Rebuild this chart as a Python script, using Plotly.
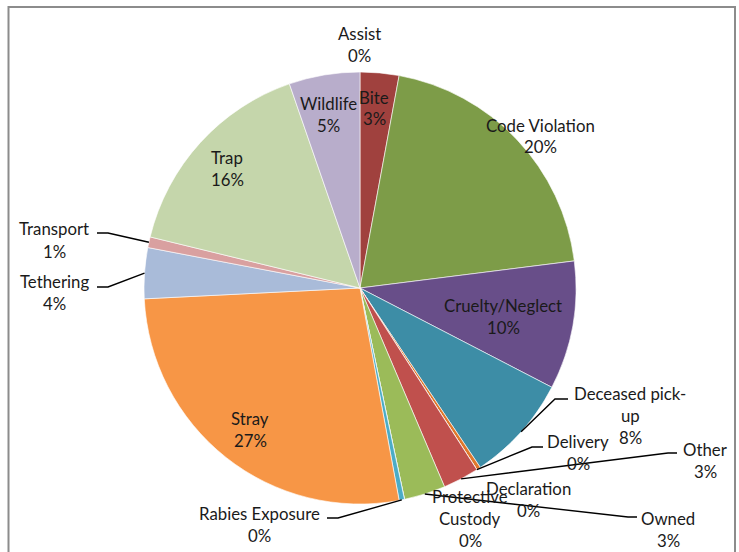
import math
import plotly.graph_objects as go

# ---- data ----
categories = ["Assist", "Bite", "Code Violation", "Cruelty/Neglect", "Deceased pick-up",
              "Declaration", "Delivery", "Other", "Owned", "Protective Custody",
              "Rabies Exposure", "Stray", "Tethering", "Transport", "Trap", "Wildlife"]
values = [0.0, 2.9, 20.1, 9.6, 8.0, 0.3, 0.0, 2.7, 3.1, 0.0, 0.4, 27.1, 3.8, 0.8, 15.9, 5.3]
colors = ["#31538A", "#A0413E", "#7D9C48", "#684E89", "#3D8DA6", "#E0782C", "#4F81BD",
          "#C0504D", "#9BBB59", "#8064A2", "#4BACC6", "#F79646", "#A9BBD9", "#D9A0A0",
          "#C5D6AB", "#B8ADCB"]
# label text lines (wrapped as in the original)
label_lines = {
    "Deceased pick-up": ["Deceased pick-", "up"],
    "Protective Custody": ["Protective", "Custody"],
}

# ---- layout constants (pixels) ----
W, H = 739, 552
CX, CY, R = 360, 288, 216
FONT = "Lato"
FS = 16.8
LINE = 22
# label position: (center x, y of first line); leader: (elbow, end) or None
label_pos = {
    "Assist": (359, 33, None),
    "Bite": (374, 97, None),
    "Code Violation": (540, 125, None),
    "Cruelty/Neglect": (503, 305, None),
    "Deceased pick-up": (630, 393, ((555, 399), (568, 399))),
    "Declaration": (528, 488, None),
    "Delivery": (578, 441, ((532, 447), (543, 447))),
    "Other": (705, 449, ((668, 453), (677, 453))),
    "Owned": (668, 518, ((628, 517), (637, 517))),
    "Protective Custody": (470, 496, None),
    "Rabies Exposure": (259, 513, ((338, 518), (327, 518))),
    "Stray": (250, 418, None),
    "Tethering": (55, 281, ((108, 287), (97, 287))),
    "Transport": (54, 229, ((108, 233), (97, 233))),
    "Trap": (227, 157, None),
    "Wildlife": (328, 103, None),
}

def px(x):
    return x / W

def py(y):
    return 1 - y / H

total = sum(values)
fig = go.Figure(go.Pie(
    labels=categories, values=values, sort=False, direction="clockwise", rotation=0,
    marker=dict(colors=colors, line=dict(color="white", width=0.6)),
    textinfo="none", hoverinfo="label+percent", showlegend=False,
    domain=dict(x=[px(CX - R), px(CX + R)], y=[py(CY + R), py(CY - R)]),
))

annotations = []
shapes = []
cum = 0.0
for cat, v in zip(categories, values):
    mid = (cum + v / 2) / total * 2 * math.pi
    cum += v
    x, y0, leader = label_pos[cat]
    pct = f"{round(v / total * 100)}%"
    lines = label_lines.get(cat, [cat]) + [pct]
    for i, t in enumerate(lines):
        annotations.append(dict(
            text=t, x=px(x), y=py(y0 + i * LINE), xref="paper", yref="paper",
            xanchor="center", yanchor="middle", showarrow=False,
            font=dict(family=FONT, size=FS, color="#1a1a1a")))
    if leader:
        sx = CX + R * math.sin(mid)
        sy = CY - R * math.cos(mid)
        (ex, ey), (fx, fy) = leader
        shapes.append(dict(
            type="path", xref="paper", yref="paper",
            path=f"M {px(sx)} {py(sy)} L {px(ex)} {py(ey)} L {px(fx)} {py(fy)}",
            line=dict(color="black", width=1.4)))

# chart border
shapes.append(dict(type="rect", xref="paper", yref="paper",
                   x0=px(8.5), x1=px(735), y0=py(570), y1=py(7),
                   line=dict(color="#8c8c8c", width=2)))

fig.update_layout(
    width=W, height=H, autosize=False,
    margin=dict(l=0, r=0, t=0, b=0),
    paper_bgcolor="white", plot_bgcolor="white",
    annotations=annotations, shapes=shapes,
)
fig.write_html("out.html", config={"displayModeBar": False},
               post_script="document.body.style.margin='0px';")
